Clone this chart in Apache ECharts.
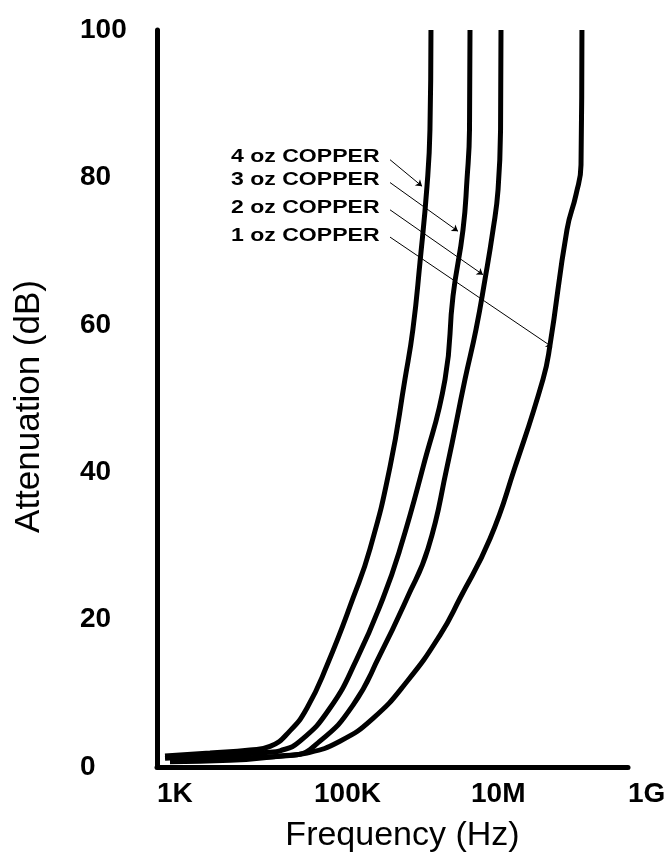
<!DOCTYPE html>
<html>
<head>
<meta charset="utf-8">
<script src="https://cdn.jsdelivr.net/npm/echarts@6/dist/echarts.min.js"></script>
<style>html,body{margin:0;padding:0;background:#fff;}#c{width:672px;height:858px;}</style>
</head>
<body>
<div id="c"></div>
<script>
// Tick labels
const xTickLabels = {1e3: '1K', 1e5: '100K', 1e7: '10M', 1e9: '1G'};
const yTicks = [0, 20, 40, 60, 80, 100];

// 4 oz copper
const f4 = [1265, 4730, 15300, 27500, 49400, 81500, 146500, 314000, 517000, 929000, 1.44e6, 1.82e6, 2.24e6, 2.75e6, 3.0e6, 3.09e6];
const d4 = [1.5, 1.9, 2.3, 2.8, 4.9, 8.0, 13.8, 22.9, 29.6, 40.7, 52.6, 59.4, 68.5, 78.8, 86.5, 100];
// 3 oz copper
const f3 = [1265, 6350, 27500, 36900, 66300, 160000, 353000, 757000, 1.25e6, 2.45e6, 4.67e6, 5.9e6, 7.91e6, 8.89e6, 9.57e6, 9.71e6];
const d3 = [1.2, 1.6, 2.0, 2.2, 3.5, 8.0, 14.7, 22.9, 29.6, 40.7, 52.6, 63.9, 72.9, 79.7, 86.5, 100];
// 2 oz copper
const f2 = [1465, 8510, 54000, 119000, 314000, 693000, 1.53e6, 2.83e6, 4.95e6, 8.39e6, 1.16e7, 1.51e7, 1.91e7, 2.21e7, 2.38e7, 2.41e7];
const d2 = [0.9, 1.2, 1.6, 3.5, 8.4, 15.2, 22.9, 29.6, 40.7, 52.6, 59.4, 66.2, 72.9, 78.3, 86.5, 100];
// 1 oz copper
const f1 = [1465, 8510, 36900, 81500, 214000, 565000, 1.53e6, 4.03e6, 7.24e6, 1.75e7, 3.64e7, 8.26e7, 1.01e8, 1.67e8, 2.18e8, 2.52e8, 2.59e8];
const d1 = [0.7, 0.9, 1.5, 1.9, 3.5, 6.6, 11.6, 17.9, 22.9, 31.0, 40.7, 52.6, 57.1, 72.9, 77.7, 81.7, 100];

// Annotation labels (data coords): text anchor, leader start, leader end
const annNames = ['4 oz COPPER', '3 oz COPPER', '2 oz COPPER', '1 oz COPPER'];
const annTextX = [8770, 8770, 8770, 8770];
const annTextY = [82.7, 79.6, 75.9, 72.1];
const annFromX = [9.3e5, 9.3e5, 9.3e5, 9.3e5];
const annFromY = [82.4, 79.3, 75.6, 71.9];
const annToX = [2.38e6, 6.82e6, 1.42e7, 1.08e8];
const annToY = [78.8, 72.7, 66.8, 57.0];

const zip = (a, b) => a.map((v, i) => [v, b[i]]);
const seriesData = [zip(f4, d4), zip(f3, d3), zip(f2, d2), zip(f1, d1)];

const chart = echarts.init(document.getElementById('c'), null, {renderer: 'canvas'});

const series = seriesData.map((d, i) => ({
  type: 'line',
  name: annNames[i],
  data: d,
  smooth: 0.5,
  symbol: 'none',
  lineStyle: {color: '#000', width: 5},
  silent: true,
  markLine: {
    silent: true,
    symbol: ['none', 'arrow'],
    symbolSize: 6,
    label: {show: false},
    lineStyle: {color: '#000', width: 1, type: 'solid'},
    data: [[{coord: [annFromX[i], annFromY[i]]}, {coord: [annToX[i], annToY[i]]}]]
  }
}));

chart.setOption({
  animation: false,
  backgroundColor: '#fff',
  grid: {left: 157, right: 44, top: 30, bottom: 89},
  xAxis: {
    type: 'log',
    logBase: 10,
    min: 1e3,
    max: 1e9,
    name: 'Frequency (Hz)',
    nameLocation: 'middle',
    nameGap: 52,
    nameTextStyle: {fontFamily: 'Liberation Sans', fontSize: 34, color: '#000', padding: [0, 0, 0, 20]},
    axisLine: {show: true, lineStyle: {color: '#000', width: 5}},
    axisTick: {show: false},
    splitLine: {show: false},
    axisLabel: {
      show: true,
      margin: 13,
      align: 'left',
      fontFamily: 'Liberation Sans',
      fontWeight: 'bold',
      fontSize: 28,
      color: '#000',
      formatter: v => xTickLabels[Math.round(v)] || ''
    }
  },
  yAxis: {
    type: 'value',
    min: 0,
    max: 100,
    interval: 20,
    name: 'Attenuation (dB)',
    nameLocation: 'middle',
    nameRotate: 90,
    nameGap: 110,
    nameTextStyle: {fontFamily: 'Liberation Sans', fontSize: 35, color: '#000', padding: [0, 16, 0, 0]},
    axisLine: {show: true, lineStyle: {color: '#000', width: 5}},
    axisTick: {show: false},
    splitLine: {show: false},
    axisLabel: {
      margin: 77,
      align: 'left',
      fontFamily: 'Liberation Sans',
      fontWeight: 'bold',
      fontSize: 28,
      color: '#000',
      padding: [0, 0, 14, 0],
      formatter: v => yTicks.includes(v) ? String(v) : ''
    }
  },
  series: series
});

// Annotation texts, placed via data coordinates
const graphics = annNames.map((t, i) => {
  const p = chart.convertToPixel({gridIndex: 0}, [annTextX[i], annTextY[i]]);
  return {
    type: 'text',
    x: p[0],
    y: p[1],
    scaleX: 1.28,
    silent: true,
    style: {
      text: t,
      x: 0,
      y: 0,
      fill: '#000',
      font: 'bold 18px "Liberation Sans"',
      textAlign: 'left',
      textVerticalAlign: 'middle'
    }
  };
});
chart.setOption({graphic: graphics});
</script>
</body>
</html>
